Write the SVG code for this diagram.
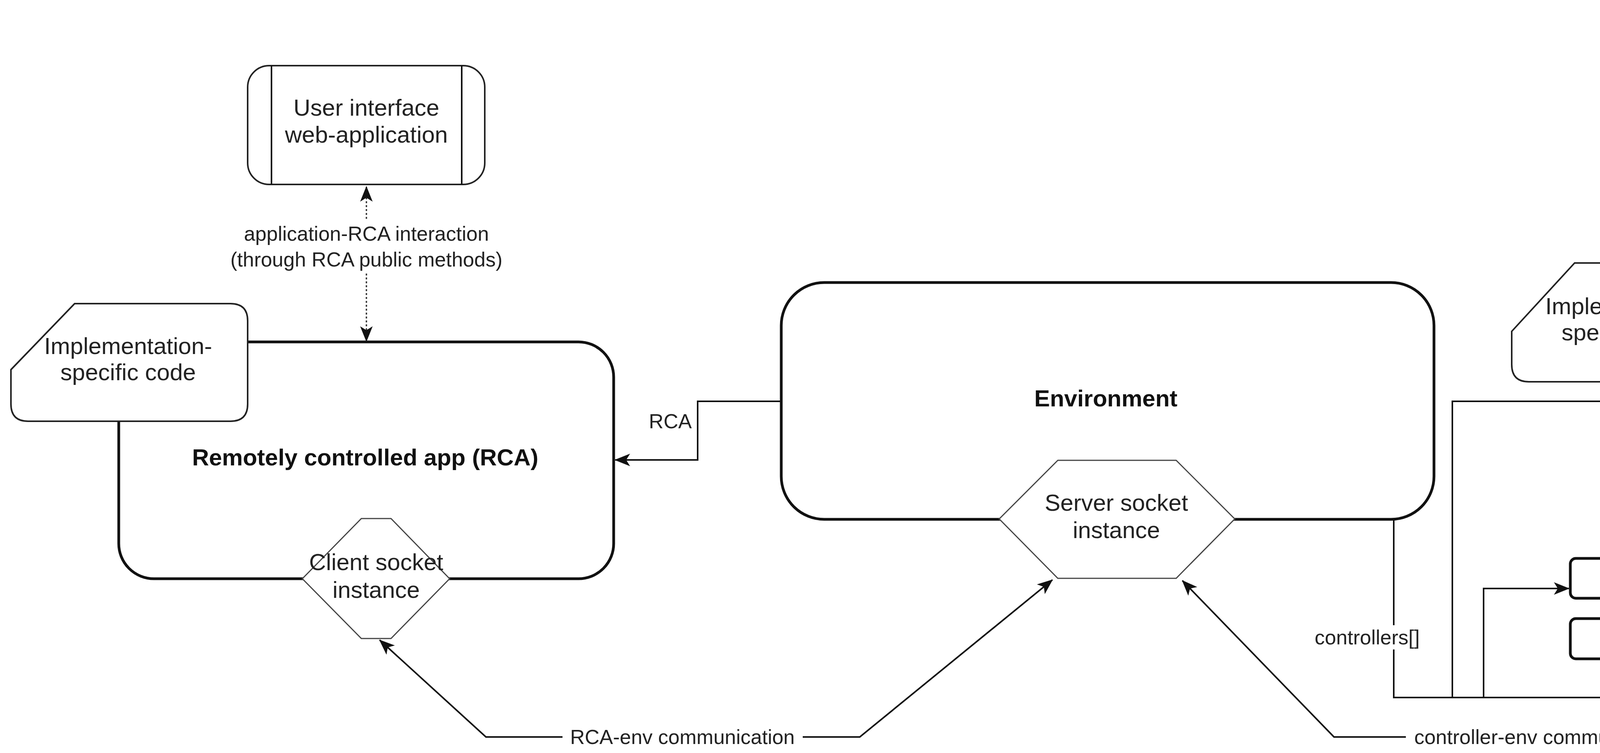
<svg xmlns="http://www.w3.org/2000/svg" width="5486" height="1927" viewBox="0 0 5486 1927">
<defs>
<style>
text{font-family:"Liberation Sans",Arial,sans-serif;fill:#222;text-anchor:middle}
.n{font-size:60px}
.l{font-size:52px}
.b{font-size:60px;font-weight:bold;fill:#111}
.box{fill:#fff;stroke:#111;stroke-width:7}
.thin{fill:#fff;stroke:#222;stroke-width:4}
.hex{fill:#fff;stroke:#444;stroke-width:3}
.c{fill:none;stroke:#111;stroke-width:4}
.d{fill:none;stroke:#333;stroke-width:3.5;stroke-dasharray:5 5}
</style>
<marker id="a" viewBox="0 0 10 10" refX="9" refY="5" markerWidth="5" markerHeight="5" orient="auto" markerUnits="userSpaceOnUse" style="overflow:visible">
<path d="M0,0 L10,5 L0,10 L3,5 Z" fill="#111" transform="scale(4)" transform-origin="9 5"/>
</marker>
<marker id="m" viewBox="0 0 40 40" refX="38" refY="20" markerWidth="40" markerHeight="40" orient="auto" markerUnits="userSpaceOnUse">
<path d="M0,4 L40,20 L0,36 L10,20 Z" fill="#111"/>
</marker>
</defs>
<rect width="5486" height="1927" fill="#fff"/>

<g id="rca">
<rect class="box" x="304" y="875" width="1267" height="606" rx="90"/>
<text class="b" x="935" y="1191">Remotely controlled app (RCA)</text>
</g>
<g id="impl-left">
<path class="thin" d="M28,946 L191,777 L590,777 Q634,777 634,821 L634,1034 Q634,1078 590,1078 L72,1078 Q28,1078 28,1034 Z"/>
<text class="n" x="328" y="906">Implementation-</text>
<text class="n" x="328" y="973">specific code</text>
</g>
<g id="client-left">
<polygon class="hex" points="925,1327 1001,1327 1151,1481 1001,1634 925,1634 774,1481"/>
<text class="n" x="963" y="1459">Client socket</text>
<text class="n" x="963" y="1530">instance</text>
</g>
<g id="ui-left">
<rect class="thin" x="634" y="168" width="607" height="304" rx="55"/>
<line class="c" x1="695" y1="168" x2="695" y2="472"/>
<line class="c" x1="1182" y1="168" x2="1182" y2="472"/>
<text class="n" x="938" y="296">User interface</text>
<text class="n" x="938" y="365">web-application</text>
</g>

<g id="env">
<rect class="box" x="2000" y="723" width="1671" height="606" rx="110"/>
<text class="b" x="2831" y="1040">Environment</text>
</g>
<g id="server">
<polygon class="hex" points="2708,1178 3011,1178 3161,1328 3011,1480 2708,1480 2558,1328"/>
<text class="n" x="2858" y="1307">Server socket</text>
<text class="n" x="2858" y="1377">instance</text>
</g>

<g id="controller">
<rect class="box" x="4198" y="721" width="1269" height="609" rx="100"/>
<text class="b" x="4829" y="1039">Controller</text>
</g>
<g id="impl-right">
<path class="thin" d="M3870,848 L4031,673 L4436,673 Q4480,673 4480,717 L4480,933 Q4480,977 4436,977 L3914,977 Q3870,977 3870,933 Z"/>
<text class="n" x="4171" y="804">Implementation-</text>
<text class="n" x="4171" y="871">specific code</text>
</g>
<g id="client-right">
<polygon class="hex" points="4838,1177 4932,1177 5085,1330 4932,1481 4832,1481 4682,1330"/>
<text class="n" x="4878" y="1308">Client socket</text>
<text class="n" x="4878" y="1377">instance</text>
</g>
<g id="ui-right">
<rect class="thin" x="4528" y="18" width="607" height="304" rx="55"/>
<line class="c" x1="4590" y1="18" x2="4590" y2="322"/>
<line class="c" x1="5076" y1="18" x2="5076" y2="322"/>
<text class="n" x="4832" y="148">User interface</text>
<text class="n" x="4832" y="218">web-application</text>
</g>
<g id="controller1">
<rect class="box" x="4020" y="1429" width="511" height="102" rx="14"/>
<text class="b" x="4275" y="1492">Controller</text>
</g>
<g id="controller2">
<rect class="box" x="4020" y="1583" width="511" height="103" rx="14"/>
<text class="b" x="4275" y="1646">Controller</text>
</g>

<g id="connectors">
<line class="d" x1="938" y1="560" x2="938" y2="478" marker-end="url(#m)"/>
<line class="d" x1="938" y1="700" x2="938" y2="873" marker-end="url(#m)"/>
<text class="l" x="938" y="616">application-RCA interaction</text>
<text class="l" x="938" y="682">(through RCA public methods)</text>

<line class="d" x1="4832" y1="410" x2="4832" y2="328" marker-end="url(#m)"/>
<line class="d" x1="4832" y1="555" x2="4832" y2="719" marker-end="url(#m)"/>
<text class="l" x="4832" y="470">application-Controller interaction</text>
<text class="l" x="4832" y="534">(through Controller public methods)</text>

<path class="c" d="M2000,1027 L1786,1027 L1786,1177 L1575,1177" marker-end="url(#m)"/>
<text class="l" x="1716" y="1096">RCA</text>

<path class="c" d="M3568,1329 L3568,1785 L4277,1785 L4277,1692" marker-end="url(#m)"/>
<path class="c" d="M3718,1785 L3718,1027 L4194,1027" marker-end="url(#m)"/>
<path class="c" d="M3798,1785 L3798,1506 L4016,1506" marker-end="url(#m)"/>
<rect x="3365" y="1600" width="270" height="62" fill="#fff"/>
<text class="l" x="3500" y="1649">controllers[]</text>

<path class="c" d="M1440,1886 L1244,1886 L972,1638" stroke-width="3" marker-end="url(#m)"/>
<path class="c" d="M2055,1886 L2201,1886 L2694,1484" stroke-width="3" marker-end="url(#m)"/>
<text class="l" x="1747" y="1904">RCA-env communication</text>

<path class="c" d="M3599,1886 L3415,1886 L3027,1486" stroke-width="3" marker-end="url(#m)"/>
<path class="c" d="M4321,1886 L4429,1886 L4873,1485" stroke-width="3" marker-end="url(#m)"/>
<text class="l" x="3960" y="1904">controller-env communication</text>
</g>
</svg>
